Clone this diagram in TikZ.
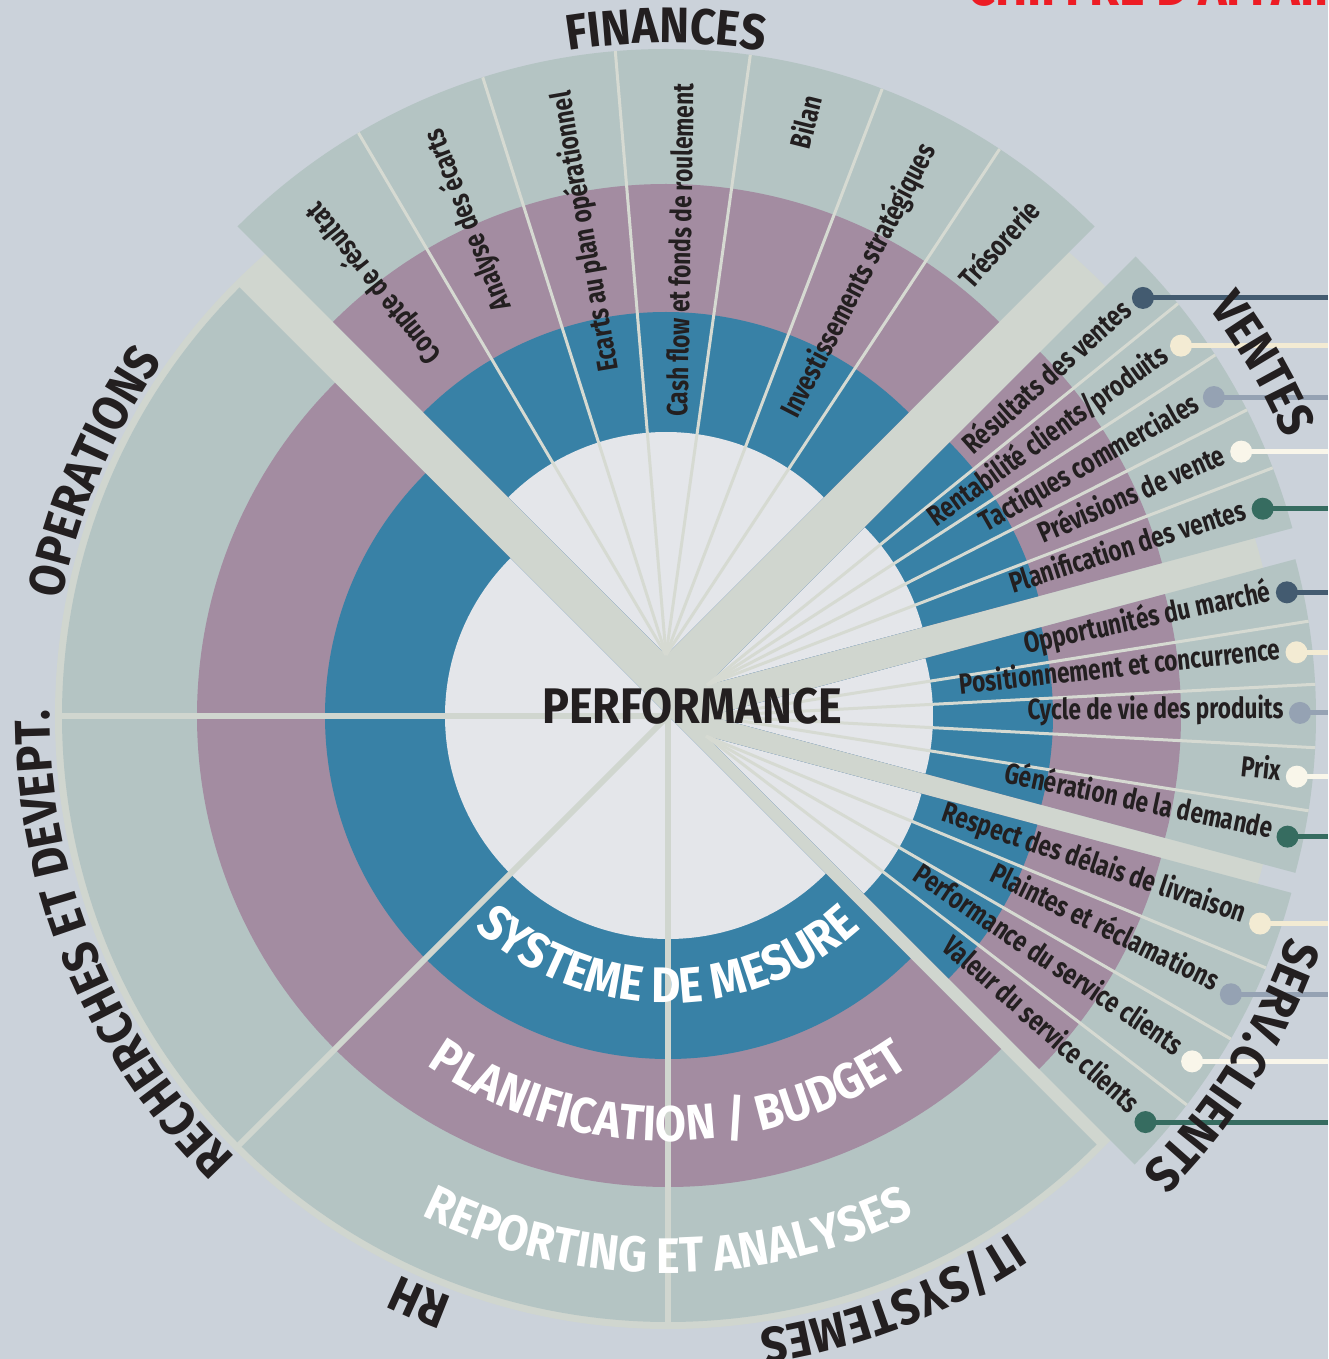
\documentclass[tikz,border=0pt]{standalone}
\usepackage{fontspec}
\setmainfont{Fira Sans}[FakeStretch=0.84]
\newfontfamily\subfam{Fira Sans}[FakeStretch=0.78]
\newfontfamily\titfam{Fira Sans}[FakeStretch=0.9]
\usetikzlibrary{calc,decorations.text}

\definecolor{bgc}{HTML}{CBD2DA}
\definecolor{gapc}{HTML}{D0D6CF}
\definecolor{lightc}{HTML}{E4E6EA}
\definecolor{bluec}{HTML}{3881A6}
\definecolor{purplec}{HTML}{A38CA1}
\definecolor{greyc}{HTML}{B4C4C3}
\definecolor{divc}{HTML}{D6DAD2}
\definecolor{inkc}{HTML}{231F20}
\definecolor{redc}{HTML}{ED1C24}
\definecolor{slatec}{HTML}{435B70}
\definecolor{creamc}{HTML}{F3EBD3}
\definecolor{steelc}{HTML}{95A2B3}
\definecolor{ivoryc}{HTML}{F9F6EA}
\definecolor{tealc}{HTML}{366C60}

\newcommand\subfont{\subfam\bfseries\fontsize{14.5}{16}\selectfont}
\newcommand\titfont{\titfam\bfseries\fontsize{25}{28}\selectfont}

\begin{document}
\begin{tikzpicture}[x=0.5pt, y=0.5pt]

\tikzstyle{sublbl}=[font=\subfont, text=inkc, inner sep=0pt]
\tikzstyle{endlbl}=[sublbl, anchor=mid east]
\tikzstyle{dot}=[circle, inner sep=0pt, minimum size=11pt]
\tikzstyle{leader}=[line width=2.5pt]
\tikzstyle{subdiv}=[draw=divc, line width=1.5pt]
\tikzstyle{secdiv}=[draw=gapc, line width=3pt]
\tikzstyle{arctitle}=[decorate, decoration={text along path, text align=center, text color=inkc}]
\tikzstyle{arcring}=[decorate, decoration={text along path, text align=center, text color=white}]

% --- apexes of the sectors ---
\coordinate (ctr) at (0,0);
\coordinate (fin) at (-2,61);
\coordinate (ven) at (39,31);
\coordinate (mkt) at (42,0);
\coordinate (srv) at (38,-20);
\coordinate (redge) at (660,0);

\useasboundingbox (-668,-643) rectangle (660,716);
\fill[bgc] (-668,-643) rectangle (660,716);

% --- disc seen between the sectors ---
\fill[gapc] (ctr) circle[radius=613];

% --- rings of each sector ---
\foreach \apex/\sa/\ea in {ctr/135/315, fin/45/135, ven/15/45, mkt/-15/15, srv/-45/-15}
  \foreach \rr/\cc in {606/greyc, 471/purplec, 343/bluec, 223/lightc}
    \fill[\cc] (\apex) -- ++(\sa:\rr) arc[start angle=\sa, end angle=\ea, radius=\rr] -- cycle;

% --- dividers ---
\foreach \a in {180,225,270} \draw[secdiv] (ctr) -- ++(\a:613);
\foreach \a in {120.5,107.6,94.8,82.0,69.1,56.6} \draw[subdiv] (fin) -- ++(\a:606);
\foreach \a in {39,33,27,21} \draw[subdiv] (ven) -- ++(\a:606);
\foreach \a in {9,3,-3,-9} \draw[subdiv] (mkt) -- ++(\a:606);
\foreach \a in {-22.5,-30,-37.5} \draw[subdiv] (srv) -- ++(\a:606);

% --- finances ---
\node[sublbl, rotate=128.7] (fcr) at ($(fin)+(128.1:473)$) {Compte de résultat};
\node[sublbl, rotate=111.4] (fae) at ($(fin)+(114.5:478)$) {Analyse des écarts};
\node[sublbl, rotate=99.8] (fep) at ($(fin)+(100.8:431)$) {Ecarts au plan opérationnel};
\node[sublbl, rotate=88.9] (fcf) at ($(fin)+(88.0:405)$) {Cash flow et fonds de roulement};
\node[sublbl, rotate=76] (fbi) at ($(fin)+(75.4:551)$) {Bilan};
\node[sublbl, rotate=62.7] (fis) at ($(fin)+(62.7:421)$) {Investissements stratégiques};
\node[sublbl, rotate=48.4] (ftr) at ($(fin)+(51.1:529)$) {Trésorerie};

% --- dots and leaders to the right edge ---
\foreach \nm/\ap/\a/\rd/\cc in {v1/ven/41.6/583/slatec, v2/ven/35.6/583/creamc, v3/ven/29.6/583/steelc,
    v4/ven/23.6/583/ivoryc, v5/ven/17.6/583/tealc,
    m1/mkt/12.1/590/slatec, m2/mkt/6.2/590/creamc, m3/mkt/0.3/590/steelc,
    m4/mkt/-5.9/590/ivoryc, m5/mkt/-11.8/590/tealc,
    s1/srv/-18.7/585/creamc, s2/srv/-26.2/585/steelc, s3/srv/-33.8/585/ivoryc, s4/srv/-41.3/585/tealc} {
  \node[dot, fill=\cc] (\nm) at ($(\ap)+(\a:\rd)$) {};
  \draw[leader, \cc] (\nm.center) -- (\nm.center -| redge);
}

% --- ventes ---
\node[endlbl, rotate=41.6] (lv1) at ($(ven)+(41.6:566)$) {Résultats des ventes};
\node[endlbl, rotate=35.6] (lv2) at ($(ven)+(35.6:566)$) {Rentabilité clients/produits};
\node[endlbl, rotate=29.6] (lv3) at ($(ven)+(29.6:566)$) {Tactiques commerciales};
\node[endlbl, rotate=23.6] (lv4) at ($(ven)+(23.6:566)$) {Prévisions de vente};
\node[endlbl, rotate=17.6] (lv5) at ($(ven)+(17.6:566)$) {Planification des ventes};

% --- marche ---
\node[endlbl, rotate=12.1] (lm1) at ($(mkt)+(12.1:574)$) {Opportunités du marché};
\node[endlbl, rotate=6.2] (lm2) at ($(mkt)+(6.2:574)$) {Positionnement et concurrence};
\node[endlbl, rotate=0.3] (lm3) at ($(mkt)+(0.3:574)$) {Cycle de vie des produits};
\node[endlbl, rotate=-5.9] (lm4) at ($(mkt)+(-5.9:574)$) {Prix};
\node[endlbl, rotate=-11.8] (lm5) at ($(mkt)+(-11.8:574)$) {Génération de la demande};

% --- service clients ---
\node[endlbl, rotate=-18.7] (ls1) at ($(srv)+(-18.7:568)$) {Respect des délais de livraison};
\node[endlbl, rotate=-26.2] (ls2) at ($(srv)+(-26.2:568)$) {Plaintes et réclamations};
\node[endlbl, rotate=-33.8] (ls3) at ($(srv)+(-33.8:568)$) {Performance du service clients};
\node[endlbl, rotate=-41.3] (ls4) at ($(srv)+(-41.3:568)$) {Valeur du service clients};

% --- ring labels ---
\path[arcring, decoration={text={|\titfont|SYSTEME DE MESURE}}] ($(ctr)+(200:287)$) arc[start angle=200, end angle=340, radius=287];
\path[arcring, decoration={text={|\titfont|PLANIFICATION / BUDGET}}] ($(ctr)+(205:425)$) arc[start angle=205, end angle=335, radius=425];
\path[arcring, decoration={text={|\titfont|REPORTING ET ANALYSES}}] ($(ctr)+(215:557)$) arc[start angle=215, end angle=325, radius=557];

% --- sector titles ---
\path[arctitle, decoration={text={|\titfont|FINANCES}}] ($(fin)+(125:612)$) arc[start angle=125, end angle=55, radius=612];
\path[arctitle, decoration={text={|\titfont|OPERATIONS}}] ($(ctr)+(200:617)$) arc[start angle=200, end angle=114, radius=617];
\path[arctitle, decoration={text={|\titfont|RECHERCHES ET DEVEPT.}}] ($(ctr)+(255:618)$) arc[start angle=255, end angle=150, radius=618];
\path[arctitle, decoration={text={|\titfont|RH}}] ($(ctr)+(277:620)$) arc[start angle=277, end angle=217, radius=620];
\path[arctitle, decoration={text={|\titfont|IT/SYSTEMES}}] ($(ctr)+(336:620)$) arc[start angle=336, end angle=246, radius=620];
\path[arctitle, decoration={text={|\titfont|VENTES}}] ($(ven)+(60:628)$) arc[start angle=60, end angle=0, radius=628];
\path[arctitle, decoration={text={|\titfont|SERV.CLIENTS}}] ($(srv)+(3:616)$) arc[start angle=3, end angle=-67, radius=616];

% --- centre and corner ---
\node[font=\titfont, text=inkc, inner sep=0pt] (perf) at (24,10) {PERFORMANCE};
\node[font=\titfam\bfseries\fontsize{27}{30}\selectfont, text=redc, anchor=base west, inner sep=0pt] (ca) at (299,710) {CHIFFRE D'AFFAIRES};

\end{tikzpicture}
\end{document}
